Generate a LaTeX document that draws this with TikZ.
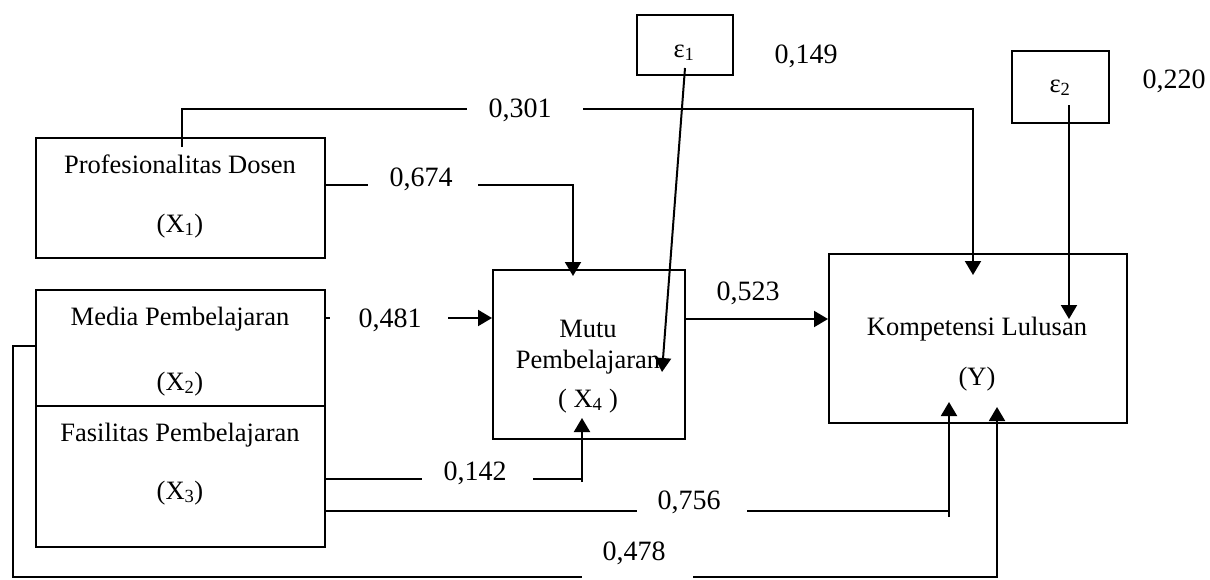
\documentclass[tikz,border=0pt]{standalone}
\usepackage{fontspec}
\setmainfont{Liberation Serif}
\usetikzlibrary{arrows.meta}
\tikzset{
  box/.style={draw, line width=2pt, inner sep=0pt, rectangle},
  wire/.style={line width=2pt},
  arw/.style={wire, -{Triangle[length=14pt,width=16pt]}},
  btext/.style={anchor=base, inner sep=0pt, font=\fontsize{26.5}{30}\selectfont},
  coef/.style={anchor=base, inner sep=0pt, font=\fontsize{28}{32}\selectfont},
}
\begin{document}
\begin{tikzpicture}[x=1pt, y=-1pt]
\useasboundingbox (0,0) rectangle (1210,579);

% variable boxes
\node[box, minimum width=289, minimum height=120] (x1) at (180.5,198) {};
\node[box, minimum width=289, minimum height=116] (x2) at (180.5,348) {};
\node[box, minimum width=289, minimum height=141] (x3) at (180.5,476.5) {};
\node[box, minimum width=192, minimum height=169] (x4) at (589,354.5) {};
\node[box, minimum width=298, minimum height=169] (yy) at (978,338.5) {};
\node[box, minimum width=96, minimum height=60] (e1) at (685,45) {};
\node[box, minimum width=97, minimum height=72] (e2) at (1060.5,87) {};

% box texts
\node[btext] (x1a) at (180,173) {Profesionalitas Dosen};
\node[btext] (x1b) at (180,232) {(X\textsubscript{1})};
\node[btext] (x2a) at (180,325) {Media Pembelajaran};
\node[btext] (x2b) at (180,390) {(X\textsubscript{2})};
\node[btext] (x3a) at (180,441) {Fasilitas Pembelajaran};
\node[btext] (x3b) at (180,499) {(X\textsubscript{3})};
\node[btext] (x4a) at (588,337) {Mutu};
\node[btext] (x4b) at (588,368) {Pembelajaran};
\node[btext] (x4c) at (588,407) {( X\textsubscript{4} )};
\node[btext] (ya) at (977,335) {Kompetensi Lulusan};
\node[btext] (yb) at (977,385) {(Y)};
\node[btext] (e1t) at (684,57) {ε\textsubscript{1}};
\node[btext] (e2t) at (1060,92) {ε\textsubscript{2}};

% path coefficients
\node[coef] (c301) at (520,117) {0,301};
\node[coef] (c674) at (421,186) {0,674};
\node[coef] (c481) at (390,327) {0,481};
\node[coef] (c523) at (748,300) {0,523};
\node[coef] (c142) at (475,480) {0,142};
\node[coef] (c756) at (689,509) {0,756};
\node[coef] (c478) at (634,560) {0,478};
\node[coef] (c149) at (806,63) {0,149};
\node[coef] (c220) at (1174,88) {0,220};

% bend points and gap ends
\coordinate (p301s) at (182,147);
\coordinate (g301a) at (467,109);
\coordinate (g301b) at (583,109);
\coordinate (t301) at (973,275);

\coordinate (g674a) at (368,185);
\coordinate (g674b) at (478,185);
\coordinate (t674) at (573,276);

\coordinate (g481a) at (330,318);
\coordinate (g481b) at (448,318);

\coordinate (g142a) at (422,479);
\coordinate (g142b) at (533,479);
\coordinate (b142) at (582,482);
\coordinate (t142) at (582,418);

\coordinate (g756a) at (637,511);
\coordinate (g756b) at (747,511);
\coordinate (b756) at (949,517);
\coordinate (t756) at (949,402);

\coordinate (l478) at (13,346);
\coordinate (g478a) at (582,577);
\coordinate (g478b) at (693,577);
\coordinate (t478) at (997,407);

\coordinate (s1) at (685,68);
\coordinate (t1) at (662,372);
\coordinate (s2) at (1069,105);
\coordinate (t2) at (1069,319);

% X1 -> Y
\draw[wire] (p301s) |- (g301a);
\draw[arw] (g301b) -| (t301);
% X1 -> X4
\draw[wire] (x1.east |- g674a) -- (g674a);
\draw[arw] (g674b) -| (t674);
% X2 -> X4
\draw[wire] (x2.east |- g481a) -- (g481a);
\draw[arw] (g481b) -- (x4.west |- g481b);
% X4 -> Y
\draw[arw] (x4.east |- 0,319) -- (yy.west |- 0,319);
% X3 -> X4
\draw[wire] (x3.east |- g142a) -- (g142a);
\draw[wire] (g142b) -- (b142 |- g142b);
\draw[arw] (b142) -- (t142);
% X3 -> Y
\draw[wire] (x3.east |- g756a) -- (g756a);
\draw[wire] (g756b) -- (b756 |- g756b);
\draw[arw] (b756) -- (t756);
% X2 -> Y
\draw[wire] (x2.west |- l478) -- (l478) |- (g478a);
\draw[arw] (g478b) -| (t478);
% residuals
\draw[arw] (s1) -- (t1);
\draw[arw] (s2) -- (t2);
\end{tikzpicture}
\end{document}
